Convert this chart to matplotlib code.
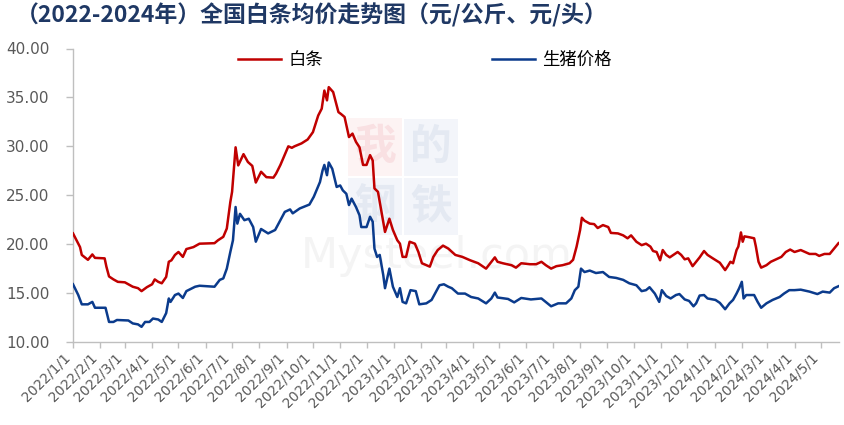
import matplotlib
matplotlib.use("Agg")
import matplotlib.pyplot as plt
import pandas as pd
from matplotlib.patches import Rectangle

plt.rcParams['font.family'] = ['Noto Sans CJK SC', 'DejaVu Sans']

# ---------------- data ----------------
title = "（2022-2024年）全国白条均价走势图（元/公斤、元/头）"
series_names = ["白条", "生猪价格"]

baitiao_dates = [
    "2022-01-01", "2022-01-09", "2022-01-11", "2022-01-18", "2022-01-23", "2022-01-26",
    "2022-02-06", "2022-02-08", "2022-02-11", "2022-02-16", "2022-02-21", "2022-03-01",
    "2022-03-10", "2022-03-16", "2022-03-20", "2022-03-26", "2022-04-01", "2022-04-04",
    "2022-04-08", "2022-04-12", "2022-04-17", "2022-04-20", "2022-04-23", "2022-04-27",
    "2022-05-01", "2022-05-06", "2022-05-10", "2022-05-18", "2022-05-25", "2022-06-11",
    "2022-06-15", "2022-06-21", "2022-06-25", "2022-06-29", "2022-07-01", "2022-07-05",
    "2022-07-08", "2022-07-14", "2022-07-19", "2022-07-24", "2022-07-28", "2022-08-03",
    "2022-08-09", "2022-08-17", "2022-08-20", "2022-08-25", "2022-08-31", "2022-09-03",
    "2022-09-07", "2022-09-10", "2022-09-18", "2022-09-25", "2022-10-01", "2022-10-07",
    "2022-10-11", "2022-10-14", "2022-10-17", "2022-10-19", "2022-10-24", "2022-10-30",
    "2022-11-02", "2022-11-06", "2022-11-11", "2022-11-15", "2022-11-19", "2022-11-23",
    "2022-11-27", "2022-12-01", "2022-12-05", "2022-12-08", "2022-12-10", "2022-12-14",
    "2022-12-18", "2022-12-22", "2022-12-27", "2022-12-31", "2023-01-05", "2023-01-08",
    "2023-01-11", "2023-01-15", "2023-01-19", "2023-01-25", "2023-01-29", "2023-02-02",
    "2023-02-07", "2023-02-11", "2023-02-15", "2023-02-20", "2023-02-26", "2023-03-04",
    "2023-03-12", "2023-03-20", "2023-03-29", "2023-04-07", "2023-04-16", "2023-04-22",
    "2023-04-26", "2023-04-29", "2023-05-05", "2023-05-15", "2023-05-20", "2023-05-26",
    "2023-06-05", "2023-06-12", "2023-06-18", "2023-06-23", "2023-06-29", "2023-07-05",
    "2023-07-12", "2023-07-20", "2023-07-24", "2023-07-28", "2023-08-01", "2023-08-03",
    "2023-08-06", "2023-08-12", "2023-08-17", "2023-08-21", "2023-08-27", "2023-09-02",
    "2023-09-05", "2023-09-13", "2023-09-19", "2023-09-24", "2023-09-28", "2023-10-04",
    "2023-10-10", "2023-10-15", "2023-10-20", "2023-10-23", "2023-10-27", "2023-10-31",
    "2023-11-03", "2023-11-07", "2023-11-11", "2023-11-15", "2023-11-20", "2023-11-24",
    "2023-11-28", "2023-12-02", "2023-12-07", "2023-12-11", "2023-12-15", "2023-12-20",
    "2023-12-24", "2023-12-30", "2024-01-07", "2024-01-13", "2024-01-16", "2024-01-19",
    "2024-01-22", "2024-01-26", "2024-01-28", "2024-01-31", "2024-02-02", "2024-02-04",
    "2024-02-10", "2024-02-15", "2024-02-17", "2024-02-20", "2024-02-23", "2024-02-29",
    "2024-03-05", "2024-03-11", "2024-03-17", "2024-03-22", "2024-03-27", "2024-04-01",
    "2024-04-08", "2024-04-18", "2024-04-25", "2024-04-29", "2024-05-05", "2024-05-11",
    "2024-05-16", "2024-05-21",
]
baitiao = [
    21.1, 19.7, 18.9, 18.4, 18.95, 18.6,
    18.55, 17.7, 16.7, 16.4, 16.15, 16.1,
    15.65, 15.5, 15.2, 15.6, 15.9, 16.4,
    16.15, 16.0, 16.65, 18.2, 18.35, 18.9,
    19.2, 18.7, 19.5, 19.7, 20.05, 20.1,
    20.4, 20.75, 21.6, 24.3, 25.35, 29.9,
    28.05, 29.2, 28.4, 28.0, 26.3, 27.4,
    26.85, 26.8, 27.2, 28.1, 29.35, 30.0,
    29.85, 30.0, 30.3, 30.7, 31.45, 33.15,
    33.85, 35.7, 34.7, 36.05, 35.55, 33.5,
    33.3, 33.0, 30.95, 31.3, 30.45, 29.9,
    28.1, 28.1, 29.1, 28.55, 25.7, 25.35,
    23.3, 21.25, 22.6, 21.45, 20.4, 20.05,
    18.7, 18.7, 20.25, 20.05, 19.2, 18.05,
    17.85, 17.7, 18.7, 19.4, 19.85, 19.55,
    18.9, 18.7, 18.35, 18.05, 17.5, 18.2,
    18.65, 18.2, 18.05, 17.85, 17.6, 18.05,
    17.95, 17.95, 18.2, 17.85, 17.5, 17.75,
    17.85, 18.05, 18.4, 19.75, 21.45, 22.7,
    22.4, 22.1, 22.05, 21.65, 21.95, 21.75,
    21.15, 21.1, 20.9, 20.6, 20.9, 20.25,
    19.9, 20.05, 19.75, 19.3, 19.2, 18.35,
    19.4, 18.9, 18.65, 18.9, 19.2, 18.9,
    18.45, 18.55, 17.75, 18.2, 18.65, 19.3,
    18.9, 18.55, 18.1, 17.35, 17.75, 18.2,
    18.05, 19.4, 19.75, 21.2, 20.25, 20.8,
    20.7, 20.6, 19.75, 18.2, 17.6, 17.85,
    18.2, 18.45, 18.7, 19.2, 19.45, 19.2,
    19.4, 19.0, 19.0, 18.8, 19.0, 19.0,
    19.55, 20.1,
]

pig_dates = [
    "2022-01-01", "2022-01-07", "2022-01-11", "2022-01-18", "2022-01-23", "2022-01-26",
    "2022-02-07", "2022-02-11", "2022-02-16", "2022-02-20", "2022-03-05", "2022-03-10",
    "2022-03-16", "2022-03-20", "2022-03-24", "2022-03-29", "2022-04-02", "2022-04-08",
    "2022-04-12", "2022-04-17", "2022-04-20", "2022-04-22", "2022-04-27", "2022-05-01",
    "2022-05-06", "2022-05-10", "2022-05-20", "2022-05-25", "2022-06-11", "2022-06-17",
    "2022-06-21", "2022-06-25", "2022-06-29", "2022-07-02", "2022-07-05", "2022-07-07",
    "2022-07-10", "2022-07-15", "2022-07-20", "2022-07-25", "2022-07-28", "2022-08-03",
    "2022-08-11", "2022-08-19", "2022-08-24", "2022-08-30", "2022-09-05", "2022-09-08",
    "2022-09-16", "2022-09-27", "2022-10-02", "2022-10-09", "2022-10-12", "2022-10-14",
    "2022-10-17", "2022-10-19", "2022-10-23", "2022-10-28", "2022-11-01", "2022-11-04",
    "2022-11-08", "2022-11-11", "2022-11-14", "2022-11-19", "2022-11-23", "2022-11-25",
    "2022-12-01", "2022-12-05", "2022-12-08", "2022-12-10", "2022-12-13", "2022-12-16",
    "2022-12-20", "2022-12-22", "2022-12-27", "2022-12-31", "2023-01-05", "2023-01-08",
    "2023-01-11", "2023-01-15", "2023-01-20", "2023-01-26", "2023-01-30", "2023-02-07",
    "2023-02-13", "2023-02-16", "2023-02-22", "2023-02-27", "2023-03-04", "2023-03-08",
    "2023-03-15", "2023-03-23", "2023-03-30", "2023-04-07", "2023-04-16", "2023-04-22",
    "2023-04-26", "2023-04-29", "2023-05-11", "2023-05-18", "2023-05-26", "2023-06-06",
    "2023-06-18", "2023-06-29", "2023-07-07", "2023-07-16", "2023-07-22", "2023-07-26",
    "2023-07-30", "2023-08-02", "2023-08-06", "2023-08-12", "2023-08-19", "2023-08-27",
    "2023-09-03", "2023-09-11", "2023-09-19", "2023-09-26", "2023-10-04", "2023-10-10",
    "2023-10-15", "2023-10-19", "2023-10-25", "2023-10-30", "2023-11-02", "2023-11-07",
    "2023-11-12", "2023-11-18", "2023-11-22", "2023-11-28", "2023-12-03", "2023-12-08",
    "2023-12-11", "2023-12-15", "2023-12-20", "2023-12-24", "2024-01-02", "2024-01-07",
    "2024-01-13", "2024-01-18", "2024-01-22", "2024-01-26", "2024-01-29", "2024-02-01",
    "2024-02-03", "2024-02-06", "2024-02-15", "2024-02-19", "2024-02-23", "2024-02-29",
    "2024-03-07", "2024-03-15", "2024-03-20", "2024-03-26", "2024-04-01", "2024-04-08",
    "2024-04-18", "2024-04-27", "2024-05-03", "2024-05-11", "2024-05-16", "2024-05-21",
]
pig = [
    15.9, 14.8, 13.85, 13.85, 14.1, 13.5,
    13.5, 12.05, 12.05, 12.25, 12.2, 11.9,
    11.8, 11.55, 12.05, 12.05, 12.4, 12.3,
    12.05, 12.95, 14.45, 14.1, 14.8, 14.95,
    14.5, 15.2, 15.65, 15.75, 15.65, 16.35,
    16.5, 17.5, 19.2, 20.4, 23.8, 22.1,
    23.1, 22.45, 22.6, 21.75, 20.25, 21.55,
    21.1, 21.45, 22.3, 23.3, 23.55, 23.15,
    23.65, 24.05, 24.85, 26.35, 27.55, 28.1,
    27.05, 28.35, 27.7, 25.85, 26.0, 25.5,
    25.15, 24.0, 24.65, 23.8, 22.95, 21.75,
    21.75, 22.8, 22.3, 19.55, 18.7, 18.9,
    16.85, 15.5, 17.5, 15.65, 14.6, 15.5,
    14.1, 13.95, 15.3, 15.2, 13.85, 13.95,
    14.3, 14.8, 15.8, 15.9, 15.65, 15.5,
    14.95, 14.95, 14.6, 14.45, 13.95, 14.45,
    15.05, 14.55, 14.4, 14.05, 14.5, 14.35,
    14.45, 13.65, 13.95, 13.95, 14.45, 15.3,
    15.65, 17.5, 17.15, 17.3, 17.05, 17.15,
    16.65, 16.55, 16.35, 16.0, 15.8, 15.2,
    15.3, 15.6, 14.95, 14.1, 15.3, 14.7,
    14.45, 14.8, 14.9, 14.35, 14.2, 13.65,
    13.95, 14.75, 14.8, 14.45, 14.3, 14.0,
    13.35, 13.95, 14.3, 14.95, 15.5, 16.15,
    14.45, 14.8, 14.8, 14.1, 13.5, 13.95,
    14.3, 14.6, 14.95, 15.3, 15.3, 15.35,
    15.15, 14.9, 15.15, 15.05, 15.5, 15.7,
]

y_ticks = [10, 15, 20, 25, 30, 35, 40]

# ---------------- figure ----------------
RED = "#C00000"
BLUE = "#0B3B8C"
GRAY = "#BFBFBF"
LABEL = "#595959"

fig = plt.figure(figsize=(8.44, 4.25), dpi=100)
ax = fig.add_axes([73 / 844, 1 - 342 / 425, (838.5 - 73) / 844, (342 - 48.5) / 425])

bd = pd.to_datetime(baitiao_dates)
pdt = pd.to_datetime(pig_dates)
ax.plot(bd, baitiao, color=RED, lw=1.8, label=series_names[0], zorder=3)
ax.plot(pdt, pig, color=BLUE, lw=1.8, label=series_names[1], zorder=3)

ax.set_ylim(10, 40)
ax.set_yticks(y_ticks)
ax.set_yticklabels([f"{v:.2f}" for v in y_ticks], family="DejaVu Sans")
ax.set_xlim(bd[0], bd[-1])

months = pd.date_range("2022-01-01", "2024-05-01", freq="MS")
ax.set_xticks(months)
ax.set_xticklabels([f"{d.year}/{d.month}/{d.day}" for d in months],
                   rotation=45, ha="right", rotation_mode="default", family="DejaVu Sans")

for s in ["top", "right"]:
    ax.spines[s].set_visible(False)
for s in ["left", "bottom"]:
    ax.spines[s].set_color(GRAY)
    ax.spines[s].set_linewidth(1.0)

ax.tick_params(axis="y", direction="out", length=5, width=1, color=GRAY,
               labelcolor=LABEL, labelsize=11, pad=12)
ax.tick_params(axis="x", direction="out", length=4, width=1, color=GRAY,
               labelcolor=LABEL, labelsize=10, pad=2)

# watermark (faint, behind the lines)
ax.add_patch(Rectangle((348 / 844, 1 - 176 / 425), 54 / 844, 58 / 425, transform=fig.transFigure,
                       facecolor="#FDF3F3", edgecolor="none", zorder=0, clip_on=False))
for (x0, y0) in [(404, 176), (348, 235), (404, 235)]:
    ax.add_patch(Rectangle((x0 / 844, 1 - y0 / 425), 54 / 844, 57 / 425, transform=fig.transFigure,
                           facecolor="#F3F5FA", edgecolor="none", zorder=0, clip_on=False))
for ch, (cx, cy), col in [("我", (375, 147), "#F9E0E2"), ("的", (431, 147), "#E4E9F2"),
                          ("钢", (375, 206), "#E4E9F2"), ("铁", (431, 206), "#E4E9F2")]:
    ax.text(cx / 844, 1 - cy / 425, ch, fontsize=30, fontweight="bold", color=col,
            ha="center", va="center", zorder=1, transform=fig.transFigure)
ax.text(437 / 844, 1 - 256 / 425, "Mysteel.com", fontsize=31, color="#F4F4F4",
        ha="center", va="center", family="DejaVu Sans", zorder=1, transform=fig.transFigure)

# title
fig.text(16 / 844, 1 - 15 / 425, title, fontsize=16.5, fontweight="bold", color="#1F3864",
         ha="left", va="center")

# legend
leg = fig.legend(loc="center left", bbox_to_anchor=(238 / 844, 1 - 60 / 425), ncol=2,
                 frameon=False, fontsize=12.5, handlelength=2.5, handletextpad=0.4,
                 columnspacing=9.7, borderpad=0, borderaxespad=0)
for t in leg.get_texts():
    t.set_color("#000000")

fig.savefig("out.png", dpi=100)
